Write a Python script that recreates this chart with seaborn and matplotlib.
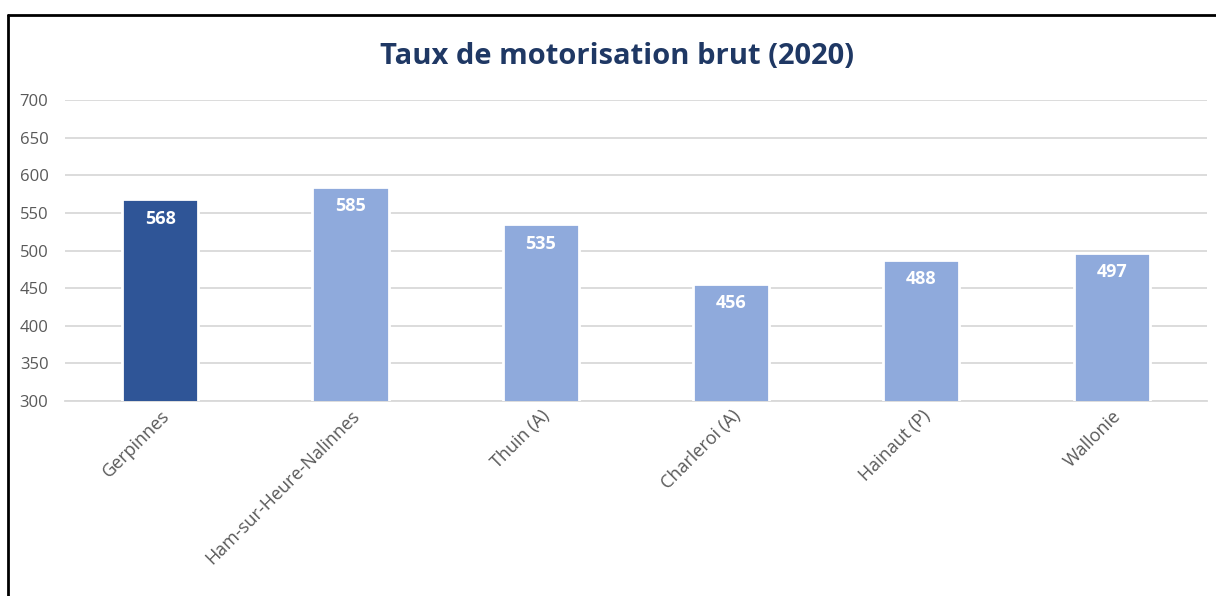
import matplotlib
matplotlib.use("Agg")
import matplotlib.pyplot as plt
from matplotlib.lines import Line2D
import seaborn as sns
import pandas as pd

# ------------------------------
# Data
# ------------------------------
communes = ["Gerpinnes", "Ham-sur-Heure-Nalinnes", "Thuin (A)",
            "Charleroi (A)", "Hainaut (P)", "Wallonie"]
taux = [568, 585, 535, 456, 488, 497]
colors = ["#2F5597", "#8FAADC", "#8FAADC", "#8FAADC", "#8FAADC", "#8FAADC"]
yticks = [300, 350, 400, 450, 500, 550, 600, 650, 700]

df = pd.DataFrame({"commune": communes, "taux": taux})

sns.set_theme(style="white")
plt.rcParams["font.family"] = ["Open Sans", "DejaVu Sans"]

fig = plt.figure(figsize=(12.16, 5.96), dpi=100)
ax = fig.add_axes([0.0535, 0.327, 0.939, 0.505])

sns.barplot(data=df, x="commune", y="taux", hue="commune", palette=colors,
            saturation=1, legend=False, width=0.4, edgecolor="white",
            linewidth=2, ax=ax, zorder=3)

ax.set_ylim(300, 700)
ax.set_yticks(yticks)
ax.yaxis.grid(True, color="#D9D9D9", linewidth=1.3, zorder=0)
ax.set_xlabel("")
ax.set_ylabel("")
for s in ["top", "right", "left"]:
    ax.spines[s].set_visible(False)
ax.spines["bottom"].set_color("#D9D9D9")
ax.spines["bottom"].set_linewidth(1.3)
ax.tick_params(axis="y", length=0, labelsize=12, labelcolor="#595959", pad=12)
ax.tick_params(axis="x", length=0, labelsize=13, labelcolor="#595959", pad=4)
plt.setp(ax.get_xticklabels(), rotation=45, ha="right", rotation_mode="anchor")

# value labels inside bar tops
for i, v in enumerate(taux):
    ax.text(i, v - 14, str(v), ha="center", va="top", color="white",
            fontsize=13, fontweight="bold", zorder=4)

fig.text(0.507, 0.905, "Taux de motorisation brut (2020)", ha="center",
         va="center", fontsize=21, fontweight="bold", color="#1F3864")

# frame edges of the original screenshot
fig.add_artist(Line2D([8 / 1216, 8 / 1216], [0, 1 - 15 / 596],
                      transform=fig.transFigure, color="black", linewidth=2))
fig.add_artist(Line2D([8 / 1216, 1], [1 - 15 / 596, 1 - 15 / 596],
                      transform=fig.transFigure, color="black", linewidth=2))

fig.savefig("out.png", dpi=100)
